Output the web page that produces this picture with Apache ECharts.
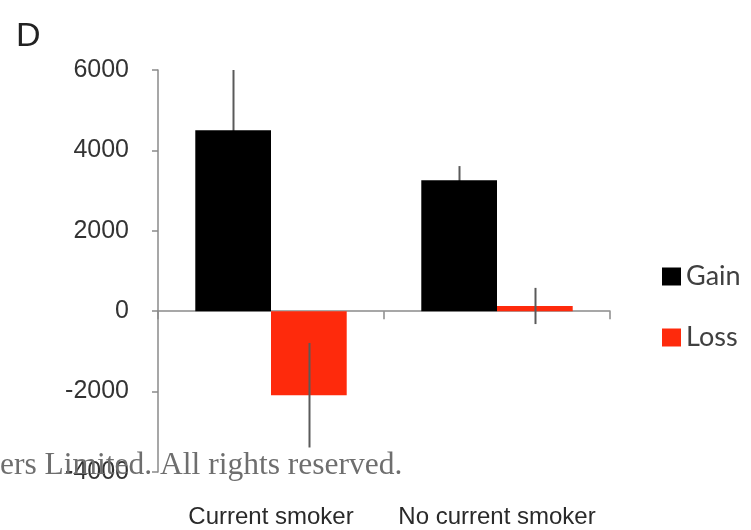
<!DOCTYPE html>
<html>
<head>
<meta charset="utf-8">
<script src="https://cdn.jsdelivr.net/npm/echarts@6/dist/echarts.min.js"></script>
<style>
html,body{margin:0;padding:0;background:#fff;}
#main{width:751px;height:530px;}
</style>
</head>
<body>
<div id="main"></div>
<script>
const categories = ['Current smoker', 'No current smoker'];
const gain = [4500, 3260];
const gainErr = [1500, 350];
const loss = [-2090, 130];
const lossErr = [1300, 450];
const yMin = -4000, yMax = 6000, yStep = 2000;

const sans = '"Liberation Sans", Arial, sans-serif';
const chart = echarts.init(document.getElementById('main'), null, {renderer: 'canvas'});

function errSeries(values, errs, idx, z) {
  return {
    type: 'custom',
    xAxisIndex: 0,
    z: z,
    silent: true,
    data: values.map((v, i) => [i, v, errs[i]]),
    renderItem: function (params, api) {
      const ci = api.value(0), v = api.value(1), e = api.value(2);
      const band = api.size([1, 0])[0];
      const bw = band * (1 - 0.33) / 2;
      const off = (idx === 0 ? -bw / 2 : bw / 2);
      const top = api.coord([ci, v + e]);
      const bot = api.coord([ci, v - e]);
      const x = Math.round(top[0] + off) + 0.5;
      return {
        type: 'line',
        shape: {x1: x, y1: top[1], x2: x, y2: bot[1]},
        style: {stroke: '#5a5a5a', lineWidth: 2}
      };
    }
  };
}

chart.setOption({
  animation: false,
  backgroundColor: '#ffffff',
  grid: {left: 158, right: 141, top: 70, bottom: 58, containLabel: false},
  legend: {
    orient: 'vertical',
    left: 657,
    top: 258,
    itemWidth: 19,
    itemHeight: 18,
    itemGap: 34,
    icon: 'rect',
    textStyle: {fontFamily: 'Lato, "Open Sans", sans-serif', fontSize: 27, color: '#404040', padding: [0, 0, 0, 0]},
    data: ['Gain', 'Loss']
  },
  xAxis: [
    {
      type: 'category',
      data: categories,
      axisLine: {onZero: true, lineStyle: {color: '#8a8a8a', width: 1.5}},
      axisTick: {show: true, length: 8, lineStyle: {color: '#8a8a8a', width: 1.5}},
      axisLabel: {show: false},
      splitLine: {show: false}
    },
    {
      type: 'category',
      data: categories,
      position: 'bottom',
      axisLine: {show: false, onZero: false},
      axisTick: {show: false},
      axisLabel: {show: true, interval: 0, margin: 33, fontFamily: sans, fontSize: 24, color: '#2a2a2a'},
      splitLine: {show: false}
    }
  ],
  yAxis: {
    type: 'value',
    min: yMin,
    max: yMax,
    interval: yStep,
    axisLine: {show: true, lineStyle: {color: '#8a8a8a', width: 1.5}},
    axisTick: {show: true, length: 6, lineStyle: {color: '#8a8a8a', width: 1.5}},
    axisLabel: {margin: 29, fontFamily: sans, fontSize: 25, color: '#333333', formatter: function (v) { return String(v); }},
    splitLine: {show: false}
  },
  series: [
    {
      name: 'Gain', type: 'bar', xAxisIndex: 0, data: gain,
      barCategoryGap: '33%', barGap: '0%', z: 2,
      itemStyle: {color: '#000000'}
    },
    {
      name: 'Loss', type: 'bar', xAxisIndex: 0, data: loss,
      barCategoryGap: '33%', barGap: '0%', z: 2,
      itemStyle: {color: '#fe2a0c'}
    },
    errSeries(gain, gainErr, 0, 1),
    errSeries(loss, lossErr, 1, 5)
  ],
  graphic: [
    {
      type: 'text', left: 16, top: 20, z: 10,
      style: {text: 'D', font: '34px "Liberation Sans", Arial, sans-serif', fill: '#222222'}
    },
    {
      type: 'text', x: 0, y: 466, z: 20,
      style: {text: 'ers Limited. All rights reserved.', font: '31.5px "Liberation Serif", "Times New Roman", serif', fill: '#6e6e6e', verticalAlign: 'middle'}
    }
  ]
});
</script>
</body>
</html>
